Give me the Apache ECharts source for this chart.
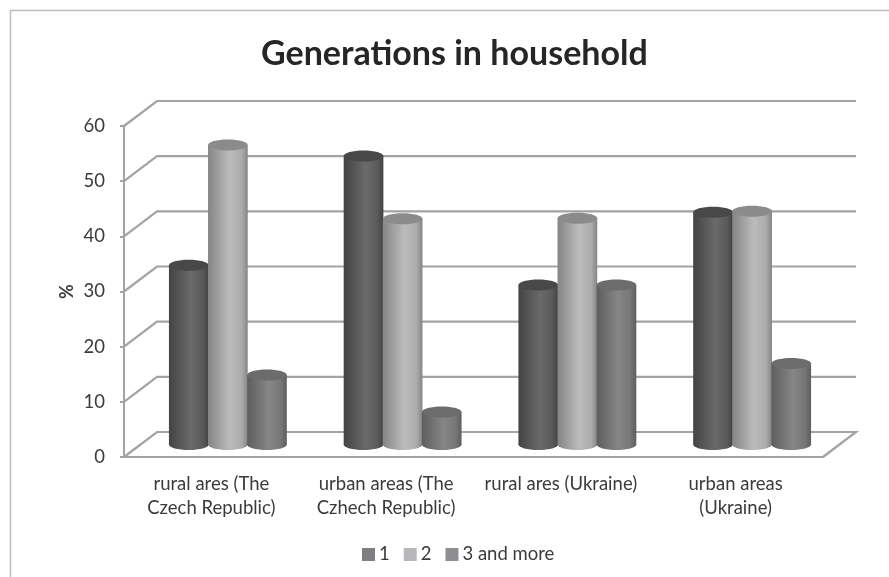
<!DOCTYPE html>
<html>
<head>
<meta charset="utf-8">
<style>html,body{margin:0;padding:0;background:#fff}#chart{width:889px;height:577px}</style>
<script src="https://cdn.jsdelivr.net/npm/echarts@6/dist/echarts.min.js"></script>
</head>
<body>
<div id="chart"></div>
<script>
// Values in percent
const categories = [
  'rural ares (The\nCzech Republic)',
  'urban areas (The\nCzhech Republic)',
  'rural ares (Ukraine)',
  'urban areas\n(Ukraine)'
];
const oneGeneration = [32.5, 52.3, 28.9, 42.1];
const twoGenerations = [54.3, 40.9, 41.0, 42.3];
const threeOrMore = [12.6, 5.9, 28.9, 14.7];
const yTicks = [0, 10, 20, 30, 40, 50, 60];

// Pseudo-3D box depth in pixels
const DEPTH_X = 33;
const DEPTH_Y = 25;
const LINE = '#a3a3a3';
const TEXT = '#3b3b3b';
const FONT = 'Lato';
const LABEL_SIZE = 18.5;

function wallItem(params, api) {
  const rect = params.coordSys;
  const y = api.coord([0, api.value(0)])[1];
  const x0 = rect.x, x1 = rect.x + rect.width;
  const points = [[x0, y], [x0 + DEPTH_X, y - DEPTH_Y], [x1 + DEPTH_X, y - DEPTH_Y]];
  if (api.value(0) === 0) points.push([x1, y]);
  return {
    type: 'polyline',
    shape: { points },
    style: { stroke: LINE, lineWidth: 2.2, fill: null },
    silent: true
  };
}

// Cylinders share the band evenly and stand halfway into the box depth
function cylinderItem(slot, shade) {
  return function (params, api) {
    const idx = api.value(0);
    const top = api.coord([idx, api.value(1)]);
    const base = api.coord([idx, 0]);
    const w = api.size([1, 0])[0] * 0.2237;
    const cx = top[0] + (slot - 1) * w + DEPTH_X / 2;
    const yTop = top[1] - DEPTH_Y / 2;
    const yBase = base[1] - DEPTH_Y / 2;
    const rx = w / 2 + 0.3, ry = 5.5;
    const side = {
      type: 'linear', x: 0, y: 0, x2: 1, y2: 0,
      colorStops: [
        { offset: 0, color: shade.edge },
        { offset: 0.55, color: shade.mid },
        { offset: 0.85, color: shade.mid2 },
        { offset: 1, color: shade.edge }
      ]
    };
    return {
      type: 'group',
      children: [
        { type: 'ellipse', shape: { cx, cy: yBase, rx, ry }, style: { fill: side } },
        { type: 'rect', shape: { x: cx - rx, y: yTop, width: rx * 2, height: yBase - yTop }, style: { fill: side } },
        { type: 'ellipse', shape: { cx, cy: yTop, rx, ry }, style: { fill: shade.cap } }
      ]
    };
  };
}

function barSeries(name, values, slot, swatch, shade) {
  return {
    name,
    type: 'custom',
    z: 3 + slot,
    itemStyle: { color: swatch },
    encode: { x: 0, y: 1 },
    data: values.map((v, i) => [i, v]),
    renderItem: cylinderItem(slot, shade)
  };
}

const chart = echarts.init(document.getElementById('chart'), null, { renderer: 'canvas' });
chart.setOption({
  animation: false,
  backgroundColor: '#ffffff',
  textStyle: { fontFamily: FONT, color: TEXT },
  title: {
    text: 'Generations in household',
    left: 261,
    top: 37,
    textStyle: { fontFamily: FONT, fontSize: 34, fontWeight: 'bold', color: '#262626' },
    padding: 0
  },
  grid: { left: 124, top: 126, width: 699, height: 331 },
  xAxis: {
    type: 'category',
    data: categories,
    axisLine: { lineStyle: { color: LINE, width: 2 } },
    axisTick: { show: false },
    axisLabel: { margin: 15, fontSize: LABEL_SIZE, lineHeight: 24, color: TEXT, fontFamily: FONT, interval: 0 }
  },
  yAxis: {
    type: 'value',
    min: 0,
    max: 60,
    interval: 10,
    name: '%',
    nameLocation: 'middle',
    nameRotate: 90,
    nameGap: 48,
    nameMoveOverlap: false,
    nameTextStyle: { fontFamily: FONT, fontSize: 18, fontWeight: 'bold', color: TEXT },
    axisLine: { show: true, lineStyle: { color: LINE, width: 2 } },
    axisTick: { show: true, length: 4, lineStyle: { color: LINE, width: 2 } },
    axisLabel: { margin: 19, fontSize: LABEL_SIZE, color: TEXT, fontFamily: FONT },
    splitLine: { show: false }
  },
  legend: {
    data: ['1', '2', '3 and more'],
    top: 540,
    left: 357,
    icon: 'rect',
    itemWidth: 13,
    itemHeight: 13,
    itemGap: 14,
    selectedMode: false,
    textStyle: { fontFamily: FONT, fontSize: LABEL_SIZE, color: TEXT, padding: [0, 0, 0, -1] }
  },
  graphic: [
    {
      type: 'polyline',
      silent: true,
      shape: { points: [[10.5, 577], [10.5, 10.5], [889, 10.5]] },
      style: { stroke: '#bdbdbd', lineWidth: 1.5, fill: null }
    }
  ],
  series: [
    {
      type: 'custom',
      z: 1,
      silent: true,
      data: yTicks.map(v => [v]),
      encode: { y: 0 },
      renderItem: wallItem
    },
    barSeries('1', oneGeneration, 0, '#7f7f83',
      { edge: '#434343', mid: '#6a6a6a', mid2: '#5a5a5a', cap: '#484848' }),
    barSeries('2', twoGenerations, 1, '#b8b8bc',
      { edge: '#858585', mid: '#bcbcbc', mid2: '#ababab', cap: '#8b8b8b' }),
    barSeries('3 and more', threeOrMore, 2, '#8e8e92',
      { edge: '#5e5e5e', mid: '#868686', mid2: '#767676', cap: '#6c6c6c' })
  ]
});
</script>
</body>
</html>
